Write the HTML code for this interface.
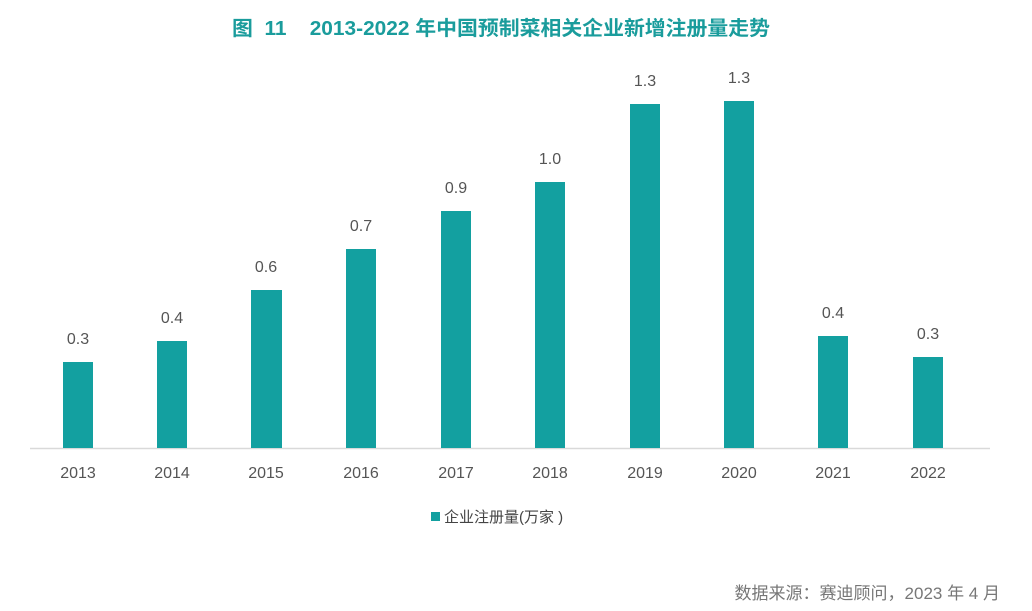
<!DOCTYPE html>
<html><head><meta charset="utf-8"><style>
html,body{margin:0;padding:0;background:#fff;width:1032px;height:611px;overflow:hidden}
text{font-family:"Liberation Sans","Noto Sans CJK SC",sans-serif}
</style></head><body>
<svg width="1032" height="611" viewBox="0 0 1032 611" xmlns="http://www.w3.org/2000/svg">
<text x="232" y="35" font-size="20" font-weight="bold" fill="#1a9c9c" style="white-space:pre" xml:space="preserve" textLength="538" lengthAdjust="spacingAndGlyphs">图  11    2013-2022 年中国预制菜相关企业新增注册量走势</text>
<line x1="30" y1="448.5" x2="990" y2="448.5" stroke="#d9d9d9" stroke-width="1.5"/>
<g fill="#13a0a0">
<rect x="63" y="362" width="30" height="86"/>
<rect x="157" y="341" width="30" height="107"/>
<rect x="251" y="290" width="31" height="158"/>
<rect x="346" y="249" width="30" height="199"/>
<rect x="441" y="211" width="30" height="237"/>
<rect x="535" y="182" width="30" height="266"/>
<rect x="630" y="104" width="30" height="344"/>
<rect x="724" y="101" width="30" height="347"/>
<rect x="818" y="336" width="30" height="112"/>
<rect x="913" y="357" width="30" height="91"/>
</g>
<g font-size="16" fill="#555" text-anchor="middle">
<text x="78" y="344">0.3</text><text x="172" y="323">0.4</text><text x="266" y="272">0.6</text>
<text x="361" y="231">0.7</text><text x="456" y="193">0.9</text><text x="550" y="164">1.0</text>
<text x="645" y="86">1.3</text><text x="739" y="83">1.3</text><text x="833" y="318">0.4</text><text x="928" y="339">0.3</text>
</g>
<g font-size="16" fill="#555" text-anchor="middle">
<text x="78" y="478">2013</text><text x="172" y="478">2014</text><text x="266" y="478">2015</text>
<text x="361" y="478">2016</text><text x="456" y="478">2017</text><text x="550" y="478">2018</text>
<text x="645" y="478">2019</text><text x="739" y="478">2020</text><text x="833" y="478">2021</text><text x="928" y="478">2022</text>
</g>
<rect x="431" y="512" width="9" height="9" fill="#13a0a0"/>
<text x="444" y="522" font-size="15" fill="#444">企业注册量(万家 )</text>
<text x="1000" y="599" text-anchor="end" font-size="17" fill="#777">数据来源：赛迪顾问，2023 年 4 月</text>
</svg>
</body></html>
